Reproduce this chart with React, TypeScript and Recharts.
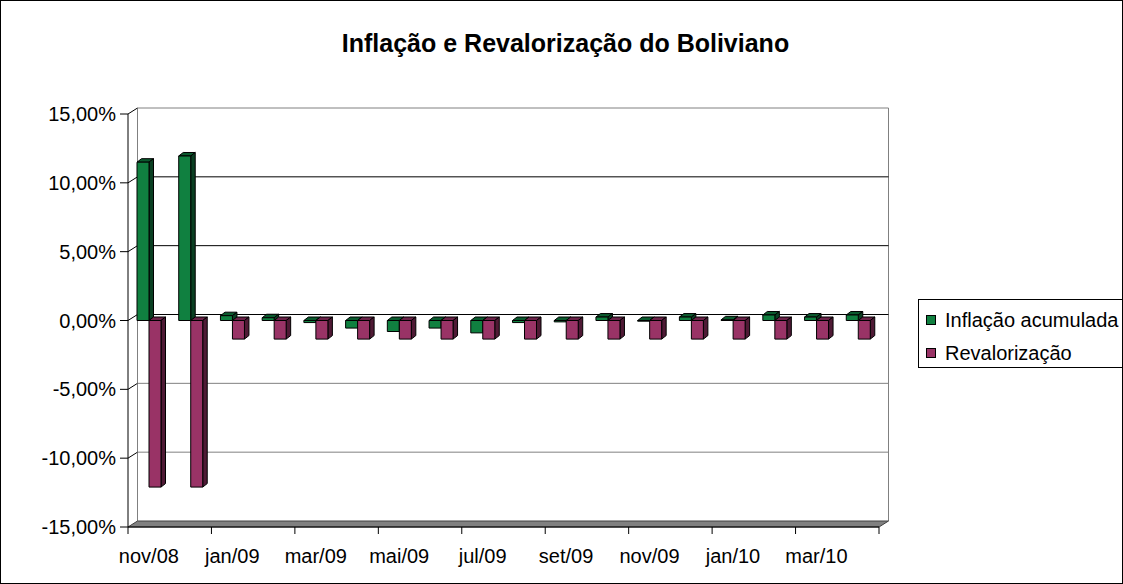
import { BarChart, Bar, XAxis, YAxis, CartesianGrid } from 'recharts';

// meses (nov/08 .. abr/10)
const months = [
  'nov/08', 'dez/08', 'jan/09', 'fev/09', 'mar/09', 'abr/09', 'mai/09', 'jun/09', 'jul/09',
  'ago/09', 'set/09', 'out/09', 'nov/09', 'dez/09', 'jan/10', 'fev/10', 'mar/10', 'abr/10',
];
// valores em %
const inflacao = [11.5, 11.95, 0.35, 0.2, -0.15, -0.55, -0.8, -0.55, -0.9, -0.15, -0.1, 0.25, -0.05, 0.25, 0.05, 0.4, 0.25, 0.4];
const revalorizacao = [-12.1, -12.1, -1.35, -1.35, -1.35, -1.35, -1.35, -1.35, -1.35, -1.35, -1.35, -1.35, -1.35, -1.35, -1.35, -1.35, -1.35, -1.35];
const yTicks = [-15, -10, -5, 0, 5, 10, 15];
const seriesNames = ['Inflação acumulada', 'Revalorização'];

const data = months.map((m, i) => ({ mes: m, inflacao: inflacao[i], revalorizacao: revalorizacao[i] }));

const FONT = '"Liberation Sans", Arial, sans-serif';
const GREEN = { front: '#108040', side: '#0a3f22', top: '#0b5a2e' };
const PINK = { front: '#993366', side: '#4f1a35', top: '#6a2348' };

const W = 1123;
const H = 584;
const PLOT = { left: 128, right: 879, top: 114, bottom: 527 };
const DX = 9.5; // profundidade da parede
const DY = 6;

const fmtPct = (v: number) => `${v.toFixed(2).replace('.', ',')}%`;

function Box3D(props: any) {
  const { x, y, width, height, colors } = props;
  if (x == null || y == null) return null;
  const top = Math.min(y, y + height);
  const h = Math.abs(height);
  const d = 4.5;
  const e = 3.5;
  return (
    <g stroke="#000" strokeWidth={1} strokeLinejoin="round">
      <polygon points={`${x},${top} ${x + d},${top - e} ${x + width + d},${top - e} ${x + width},${top}`} fill={colors.top} />
      <polygon points={`${x + width},${top} ${x + width + d},${top - e} ${x + width + d},${top + h - e} ${x + width},${top + h}`} fill={colors.side} />
      <rect x={x} y={top} width={width} height={h} fill={colors.front} />
    </g>
  );
}

// linhas de grade na parede de fundo + chão e paredes
function gridLine(p: any) {
  const { x1, x2, y1 } = p;
  const y = y1;
  const isBottom = Math.abs(y - PLOT.bottom) < 1.5;
  const isTop = Math.abs(y - PLOT.top) < 1.5;
  const negative = y > (PLOT.top + PLOT.bottom) / 2 + 2;
  if (isBottom) {
    return (
      <g key={p.key}>
        <line x1={x1 + DX} y1={PLOT.top - DY} x2={x1 + DX} y2={PLOT.bottom - DY} stroke="#808080" />
        <line x1={x2 + DX} y1={PLOT.top - DY} x2={x2 + DX} y2={PLOT.bottom - DY} stroke="#808080" />
        <polygon
          points={`${x1},${y} ${x2},${y} ${x2 + DX},${y - DY} ${x1 + DX},${y - DY}`}
          fill="#808080"
          stroke="#404040"
        />
      </g>
    );
  }
  return (
    <g key={p.key}>
      <line x1={x1} y1={y} x2={x1 + DX} y2={y - DY} stroke="#000" />
      <line x1={x1 + DX} y1={y - DY} x2={x2 + DX} y2={y - DY} stroke={negative ? '#808080' : isTop ? '#808080' : '#000'} />
    </g>
  );
}

function XTick(props: any) {
  const { x, y, payload } = props;
  const half = payload && payload.offset ? payload.offset : (PLOT.right - PLOT.left) / months.length / 2;
  const lastShown = months[Math.floor((months.length - 1) / 2) * 2];
  return (
    <g>
      <line x1={x - half} y1={y} x2={x - half} y2={y + 7} stroke="#000" />
      {payload.value === lastShown && <line x1={x + 3 * half} y1={y} x2={x + 3 * half} y2={y + 7} stroke="#000" />}
      <text x={x} y={y + 36} textAnchor="middle" fill="#000" fontSize={20} fontFamily={FONT}>
        {payload.value}
      </text>
    </g>
  );
}

export default function App() {
  return (
    <div style={{ position: 'absolute', left: 0, top: 0, width: W, height: H, background: '#fff', overflow: 'hidden', fontFamily: FONT }}>
      <BarChart
        width={W}
        height={H}
        data={data}
        margin={{ top: PLOT.top, right: W - PLOT.right, bottom: 27, left: 60 }}
        barSize={12}
        barGap={0}
      >
        <CartesianGrid vertical={false} horizontal={gridLine} />
        <XAxis
          dataKey="mes"
          interval={1}
          height={30}
          tickSize={0}
          tickMargin={0}
          tickLine={false}
          axisLine={{ stroke: '#000' }}
          tick={<XTick />}
        />
        <YAxis
          domain={[-15, 15]}
          ticks={yTicks}
          width={68}
          tickFormatter={fmtPct}
          tickSize={8}
          tickMargin={4}
          axisLine={{ stroke: '#000' }}
          tickLine={{ stroke: '#000' }}
          tick={{ fill: '#000', fontSize: 20, fontFamily: FONT }}
          allowDataOverflow
        />
        <Bar dataKey="inflacao" name={seriesNames[0]} isAnimationActive={false} shape={(p: any) => <Box3D {...p} colors={GREEN} />} />
        <Bar dataKey="revalorizacao" name={seriesNames[1]} isAnimationActive={false} shape={(p: any) => <Box3D {...p} colors={PINK} />} />
      </BarChart>

      <div
        style={{
          position: 'absolute', left: 0, top: 31, width: W, paddingLeft: 8, boxSizing: 'border-box',
          textAlign: 'center', fontSize: 25, lineHeight: '25px', fontWeight: 'bold', color: '#000',
        }}
      >
        Inflação e Revalorização do Boliviano
      </div>

      <div
        style={{
          position: 'absolute', left: 918, top: 299, width: 240, height: 69, boxSizing: 'border-box',
          border: '1px solid #000', background: '#fff', fontSize: 20, color: '#000',
        }}
      >
        {seriesNames.map((name, i) => (
          <div key={name} style={{ position: 'absolute', left: 7, top: i === 0 ? 9 : 42, height: 22, display: 'flex', alignItems: 'center', whiteSpace: 'nowrap' }}>
            <span style={{ width: 10, height: 10, boxSizing: 'border-box', border: '1px solid #000', background: i === 0 ? GREEN.front : PINK.front, marginRight: 9 }} />
            <span style={{ lineHeight: '22px' }}>{name}</span>
          </div>
        ))}
      </div>

      <div style={{ position: 'absolute', inset: 0, border: '1px solid #000', pointerEvents: 'none' }} />
    </div>
  );
}
